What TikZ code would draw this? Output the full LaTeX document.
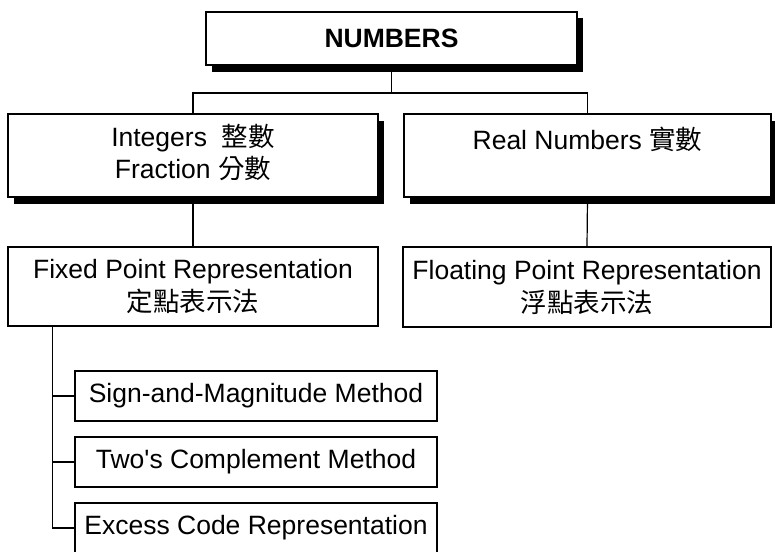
\documentclass[tikz,border=0pt]{standalone}
\usepackage{fontspec}
\setmainfont{Liberation Sans}[Ligatures=TeXOff]
\newfontfamily\cjk{Noto Sans CJK TC}
\usetikzlibrary{shadows}
\begin{document}
\begin{tikzpicture}[x=1pt,y=1pt,
  box/.style={draw, line width=1.2pt, fill=white, inner sep=0pt, align=center,
    font=\fontsize{26.5}{27}\selectfont},
  shadowbox/.style={box, drop shadow={shadow xshift=6pt, shadow yshift=-6.5pt, opacity=1, fill=black}},
  topbox/.style={shadowbox, line width=2pt, font=\fontsize{26.5}{27}\selectfont\bfseries},
  conn/.style={line width=1.2pt}]
\useasboundingbox (0,0) rectangle (775,-551);
\clip (0,0) rectangle (775,-551);

\node[topbox, minimum width=371pt, minimum height=53pt] (top) at (391.5,-38.5) {NUMBERS};

\node[shadowbox, minimum width=370pt, minimum height=83pt] (int) at (193,-155.5)
  {\strut Integers\ \ {\cjk 整數}\\\strut Fraction {\cjk 分數}};
\node[shadowbox, minimum width=367pt, minimum height=83pt] (real) at (587.5,-155.5)
  {\rule{0pt}{22pt}Real Numbers {\cjk 實數}\\\strut};

\node[box, minimum width=370pt, minimum height=79pt] (fixed) at (193,-286.5)
  {\rule{0pt}{26pt}Fixed Point Representation\\[4pt]\strut{\cjk 定點表示法}};
\node[box, minimum width=368pt, minimum height=80pt] (float) at (587,-287)
  {\rule{0pt}{26pt}Floating Point Representation\\[4pt]\strut{\cjk 浮點表示法}};

\node[box, minimum width=362pt, minimum height=50pt] (sign) at (256,-396) {Sign-and-Magnitude Method};
\node[box, minimum width=362pt, minimum height=50pt] (twos) at (256,-462) {Two's Complement Method};
\node[box, minimum width=362pt, minimum height=50pt] (excess) at (256,-528) {Excess Code Representation};

\coordinate (bar) at (top.south |- 0,-93);
\coordinate (trunk) at ([xshift=45pt]fixed.south west);

\draw[conn] (top.south) -- (bar);
\draw[conn] (int.north) -- (int.north |- bar) -- (real.north |- bar) -- (real.north);
\draw[conn] (int.south) -- (fixed.north);
\draw[conn] (real.south) -- (float.north);
\draw[conn] (trunk) |- (sign.west);
\draw[conn] (trunk) |- (twos.west);
\draw[conn] (trunk) |- (excess.west);
\end{tikzpicture}
\end{document}
